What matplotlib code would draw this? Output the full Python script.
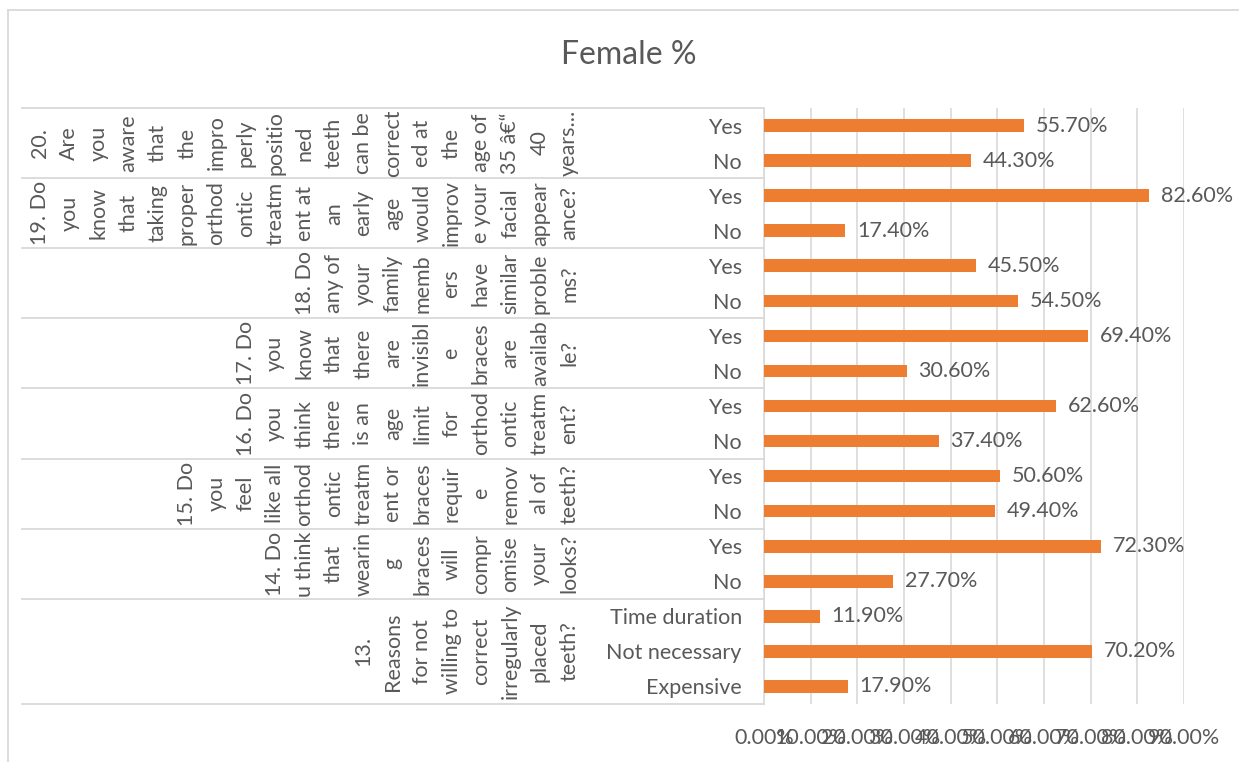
import matplotlib
matplotlib.use("Agg")
import matplotlib.pyplot as plt
from matplotlib.lines import Line2D
from matplotlib.transforms import blended_transform_factory

# ---------------- data ----------------
q20_lines = ["20.", "Are", "you", "aware", "that", "the", "impro", "perly", "positio", "ned",
             "teeth", "can be", "correct", "ed at", "the", "age of", "35 \u00e2\u20ac\u201c", "40", "years..."]
q19_lines = ["19. Do", "you", "know", "that", "taking", "proper", "orthod", "ontic", "treatm", "ent at",
             "an", "early", "age", "would", "improv", "e your", "facial", "appear", "ance?"]
q18_lines = ["18. Do", "any of", "your", "family", "memb", "ers", "have", "similar", "proble", "ms?"]
q17_lines = ["17. Do", "you", "know", "that", "there", "are", "invisibl", "e", "braces", "are",
             "availab", "le?"]
q16_lines = ["16. Do", "you", "think", "there", "is an", "age", "limit", "for", "orthod", "ontic",
             "treatm", "ent?"]
q15_lines = ["15. Do", "you", "feel", "like all", "orthod", "ontic", "treatm", "ent or", "braces",
             "requir", "e", "remov", "al of", "teeth?"]
q14_lines = ["14. Do", "u think", "that", "wearin", "g", "braces", "will", "compr", "omise", "your",
             "looks?"]
q13_lines = ["13.", "Reasons", "for not", "willing to", "correct", "irregularly", "placed", "teeth?"]

question_lines = [q20_lines, q19_lines, q18_lines, q17_lines, q16_lines, q15_lines, q14_lines, q13_lines]

options = [["Yes", "No"], ["Yes", "No"], ["Yes", "No"], ["Yes", "No"],
           ["Yes", "No"], ["Yes", "No"], ["Yes", "No"],
           ["Time duration", "Not necessary", "Expensive"]]
values = [[55.70, 44.30], [82.60, 17.40], [45.50, 54.50], [69.40, 30.60],
          [62.60, 37.40], [50.60, 49.40], [72.30, 27.70],
          [11.90, 70.20, 17.90]]
x_ticks = [0, 10, 20, 30, 40, 50, 60, 70, 80, 90]
title = "Female %"

# ---------------- style ----------------
W, H = 1239, 762
FONT = "Lato"
TXT = "#595959"
GRID = "#D9D9D9"
BAR = "#ED7D31"
FS = 15.5

plt.rcParams["font.family"] = [FONT, "DejaVu Sans"]

fig = plt.figure(figsize=(W / 100, H / 100), dpi=100)
fig.patch.set_facecolor("white")

ax_left, ax_right, ax_top, ax_bottom = 764, 1184, 108, 704
ax = fig.add_axes([ax_left / W, 1 - ax_bottom / H, (ax_right - ax_left) / W, (ax_bottom - ax_top) / H])

cat_labels = [o for grp in options for o in grp]
cat_values = [v for grp in values for v in grp]
ypos = list(range(len(cat_labels)))

ax.barh(ypos, cat_values, height=0.36, color=BAR, zorder=3)
ax.set_ylim(len(cat_labels) - 0.5, -0.5)
ax.set_xlim(0, 90)

for y, v in zip(ypos, cat_values):
    ax.annotate(f"{v:.2f}%", xy=(v, y), xytext=(8.5, 0), textcoords="offset points",
                ha="left", va="center", fontsize=FS, color=TXT)

ax.set_yticks(ypos)
ax.set_yticklabels(cat_labels, fontsize=FS, color=TXT)
ax.tick_params(axis="y", length=0, pad=16)
ax.set_xticks(x_ticks)
ax.set_xticklabels([f"{t:.2f}%" for t in x_ticks], fontsize=FS, color=TXT)
ax.tick_params(axis="x", length=0, pad=17)
ax.grid(axis="x", color=GRID, linewidth=1.2, zorder=0)
ax.set_axisbelow(True)
for s in ["top", "right", "bottom"]:
    ax.spines[s].set_visible(False)
ax.spines["left"].set_color(GRID)
ax.spines["left"].set_linewidth(1.2)

# group separators and rotated multi-line group labels
trans = blended_transform_factory(fig.transFigure, ax.transData)
bounds = [-0.5]
for grp in options:
    bounds.append(bounds[-1] + len(grp))
for b in bounds:
    fig.add_artist(Line2D([22 / W, ax_left / W], [b, b], transform=trans,
                          color=GRID, linewidth=1.3, clip_on=False))

n_cols = max(len(l) for l in question_lines)
col_first, col_step = 40, 29.4
for gi, lines in enumerate(question_lines):
    yc = (bounds[gi] + bounds[gi + 1]) / 2
    start = n_cols - len(lines)
    for k, line in enumerate(lines):
        xc = col_first + (start + k) * col_step
        fig.text(xc / W, yc, line, transform=trans, rotation=90, ha="center", va="center",
                 fontsize=FS, color=TXT)

# title
fig.text(629 / W, 1 - 55 / H, title, ha="center", va="center", fontsize=23, color=TXT)

# chart border (top & left edges visible)
fig.add_artist(Line2D([8 / W, 1.0], [1 - 10 / H, 1 - 10 / H], transform=fig.transFigure,
                      color=GRID, linewidth=1.3))
fig.add_artist(Line2D([8 / W, 8 / W], [0, 1 - 10 / H], transform=fig.transFigure,
                      color=GRID, linewidth=1.3))

fig.savefig("out.png", dpi=100, facecolor="white")
